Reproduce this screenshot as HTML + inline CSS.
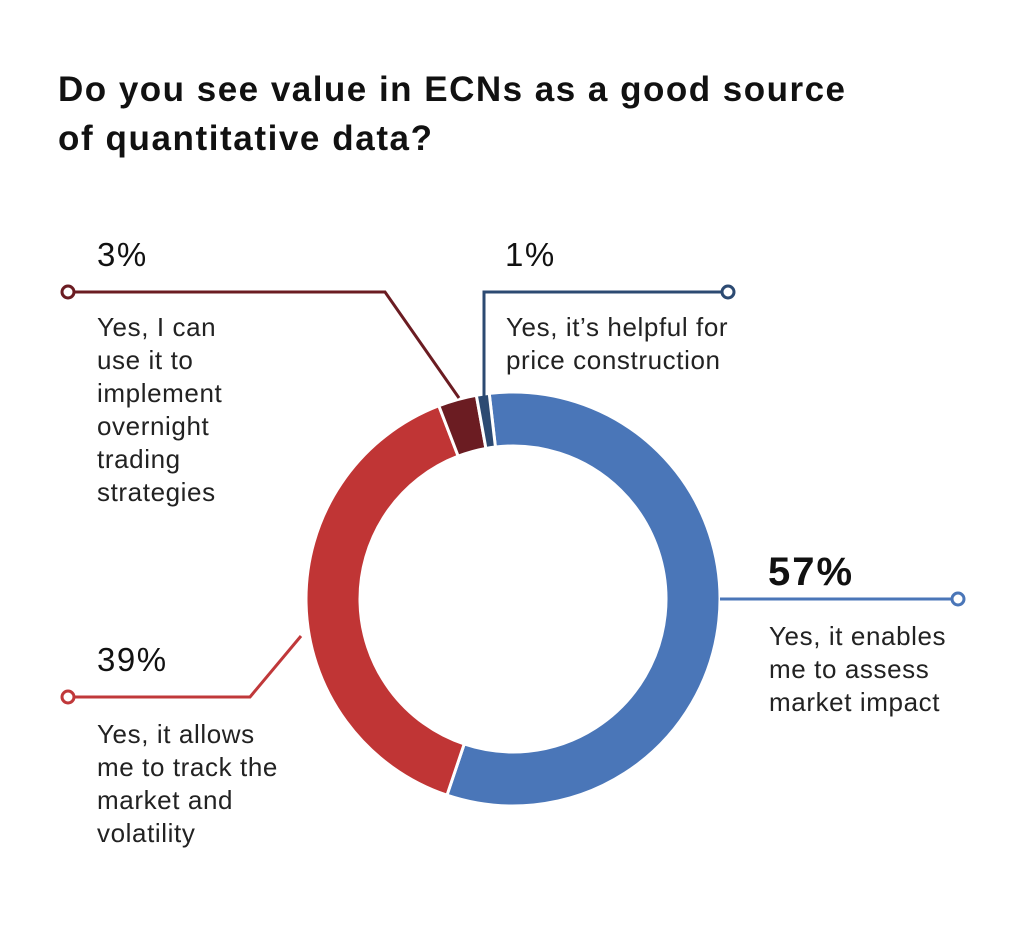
<!DOCTYPE html>
<html><head><meta charset="utf-8"><style>
body{margin:0;background:#fff;}
svg{display:block;font-family:"Liberation Sans",sans-serif;}
.lbl{font-size:26px;letter-spacing:0.6px;fill:#222;}
.pct{font-size:33px;letter-spacing:1.5px;fill:#111;}
</style></head><body>
<svg width="1024" height="947" viewBox="0 0 1024 947">
<text x="58" y="101" font-size="35" font-weight="bold" fill="#111" textLength="787" lengthAdjust="spacing">Do you see value in ECNs as a good source</text>
<text x="58" y="150" font-size="35" font-weight="bold" fill="#111" textLength="374" lengthAdjust="spacing">of quantitative data?</text>
<g id="ring"></g>
<g>
<polyline points="720,599 952,599" fill="none" stroke="#4a76b8" stroke-width="3"/>
<circle cx="958" cy="599" r="6" fill="#fff" stroke="#4a76b8" stroke-width="3"/>
<text x="768" y="585" font-size="40" font-weight="bold" fill="#111" letter-spacing="2">57%</text>
<text class="lbl"><tspan x="769" y="645">Yes, it enables</tspan><tspan x="769" y="678">me to assess</tspan><tspan x="769" y="711">market impact</tspan></text>
</g>
<g>
<polyline points="301,636 250,697 74,697" fill="none" stroke="#c0383a" stroke-width="3"/>
<circle cx="68" cy="697" r="6" fill="#fff" stroke="#c0383a" stroke-width="3"/>
<text x="97" y="671" class="pct">39%</text>
<text class="lbl"><tspan x="97" y="743">Yes, it allows</tspan><tspan x="97" y="776">me to track the</tspan><tspan x="97" y="809">market and</tspan><tspan x="97" y="842">volatility</tspan></text>
</g>
<g>
<polyline points="459,398 385,292 74,292" fill="none" stroke="#6b1c22" stroke-width="3"/>
<circle cx="68" cy="292" r="6" fill="#fff" stroke="#6b1c22" stroke-width="3"/>
<text x="97" y="266" class="pct">3%</text>
<text class="lbl"><tspan x="97" y="336">Yes, I can</tspan><tspan x="97" y="369">use it to</tspan><tspan x="97" y="402">implement</tspan><tspan x="97" y="435">overnight</tspan><tspan x="97" y="468">trading</tspan><tspan x="97" y="501">strategies</tspan></text>
</g>
<g>
<polyline points="484,396 484,292 722,292" fill="none" stroke="#2c4a72" stroke-width="3"/>
<circle cx="728" cy="292" r="6" fill="#fff" stroke="#2c4a72" stroke-width="3"/>
<text x="505" y="266" class="pct">1%</text>
<text class="lbl"><tspan x="506" y="336">Yes, it’s helpful for</tspan><tspan x="506" y="369">price construction</tspan></text>
</g>
</svg>
<script>
const categories = ["Assess market impact","Track market and volatility","Overnight trading strategies","Price construction"];
const values = [57, 39, 3, 1];
const colors = ["#4a76b8","#c03535","#6b1c22","#2c4a72"];
const cx=513, cy=599, R=207, r=153, startDeg=-6.6;
const g=document.getElementById('ring');
const total=values.reduce((a,b)=>a+b,0);
function pt(rad,deg){const a=deg*Math.PI/180;return [cx+rad*Math.sin(a), cy-rad*Math.cos(a)];}
let acc=startDeg;
values.forEach((v,i)=>{
  const a0=acc, a1=acc+v/total*360; acc=a1;
  const large=(a1-a0)>180?1:0;
  const p0=pt(R,a0),p1=pt(R,a1),q1=pt(r,a1),q0=pt(r,a0);
  const p=document.createElementNS('http://www.w3.org/2000/svg','path');
  p.setAttribute('d',`M${p0[0]},${p0[1]} A${R},${R} 0 ${large} 1 ${p1[0]},${p1[1]} L${q1[0]},${q1[1]} A${r},${r} 0 ${large} 0 ${q0[0]},${q0[1]} Z`);
  p.setAttribute('fill',colors[i]);
  p.setAttribute('stroke','#fff');
  p.setAttribute('stroke-width','3');
  
  
  g.appendChild(p);
});
</script>
</body></html>
